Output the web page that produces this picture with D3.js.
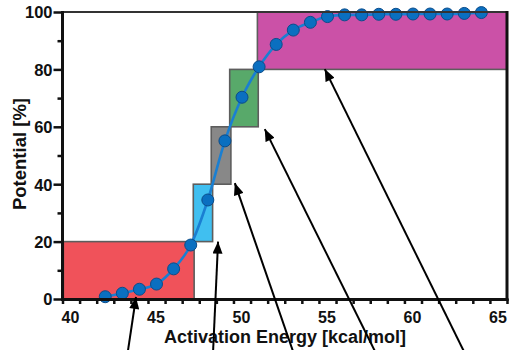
<!DOCTYPE html>
<html>
<head>
<meta charset="utf-8">
<script src="https://cdn.jsdelivr.net/npm/d3@7/dist/d3.min.js"></script>
<style>
  html, body { margin: 0; padding: 0; background: #fff; }
  svg { display: block; font-family: "Liberation Sans", Arial, sans-serif; }
</style>
</head>
<body>
<svg id="chart" width="510" height="350"></svg>
<script>
// Cumulative potential vs activation energy
const energy = [42.5, 43.5, 44.5, 45.5, 46.5, 47.5, 48.5, 49.5, 50.5, 51.5, 52.5, 53.5,
                54.5, 55.5, 56.5, 57.5, 58.5, 59.5, 60.5, 61.5, 62.5, 63.5, 64.5];
const potential = [0.8, 2.0, 3.4, 5.2, 10.5, 18.8, 34.5, 55.1, 70.3, 80.9, 88.7, 93.7,
                   96.4, 98.4, 99.0, 99.0, 99.2, 99.2, 99.3, 99.3, 99.3, 99.5, 99.8];

// Energy bands covering each 20 % slice of the potential
const bandStart = [40.05, 47.65, 48.7, 49.78, 51.4];
const bandEnd   = [47.7, 48.78, 49.85, 51.45, 66];
const bandLow   = [0, 20, 40, 60, 80];
const bandHigh  = [20, 40, 60, 80, 100];
const bandColor = ["#f0525a", "#40bff0", "#888888", "#58a96a", "#cb51a7"];

// Callout arrows: tail (below the axis) and head, in data units
const arrowTailX = [43.83, 48.81, 53.47, 58.26, 63.46];
const arrowTailY = [-18, -18, -18, -18, -18];
const arrowHeadX = [44.3, 49.1, 50.08, 51.83, 55.34];
const arrowHeadY = [0.7, 20, 40.4, 59.2, 80.1];

const xTicks = [40, 45, 50, 55, 60, 65];
const yTicks = [0, 20, 40, 60, 80, 100];

const svg = d3.select("#chart");
const plotL = 62.5, plotR = 507, plotT = 12, plotB = 299;

const x = d3.scaleLinear().domain([40, 66]).range([plotL, plotR]);
const y = d3.scaleLinear().domain([0, 100]).range([plotB, plotT]);

// bands
svg.append("g").selectAll("rect").data(bandStart).join("rect")
  .attr("x", (d, i) => x(d))
  .attr("y", (d, i) => y(bandHigh[i]))
  .attr("width", (d, i) => x(bandEnd[i]) - x(d))
  .attr("height", (d, i) => y(bandLow[i]) - y(bandHigh[i]))
  .attr("fill", (d, i) => bandColor[i])
  .attr("stroke", "#5d5d5d")
  .attr("stroke-width", 1.6);

// curve
const line = d3.line()
  .x((d, i) => x(energy[i]))
  .y(d => y(d))
  .curve(d3.curveMonotoneX);
svg.append("path")
  .attr("d", line(potential))
  .attr("fill", "none")
  .attr("stroke", "#1a7fd2")
  .attr("stroke-width", 2.6);

svg.append("g").selectAll("circle").data(potential).join("circle")
  .attr("cx", (d, i) => x(energy[i]))
  .attr("cy", d => y(d))
  .attr("r", 6)
  .attr("fill", "#0a6fc0")
  .attr("stroke", "#0b4c8a")
  .attr("stroke-width", 1);

// frame
svg.append("line").attr("x1", plotL).attr("x2", plotR).attr("y1", plotT).attr("y2", plotT)
  .attr("stroke", "#333").attr("stroke-width", 2);
svg.append("line").attr("x1", plotR).attr("x2", plotR).attr("y1", plotT - 1).attr("y2", plotB + 1.5)
  .attr("stroke", "#111").attr("stroke-width", 3);

// y axis
const yAxis = d3.axisLeft(y).tickValues(d3.range(0, 101, 10)).tickSize(0).tickFormat("");
const gy = svg.append("g").attr("transform", `translate(${plotL},0)`).call(yAxis);
gy.select(".domain").remove();
svg.append("line").attr("x1", plotL).attr("x2", plotL).attr("y1", plotT - 1).attr("y2", plotB + 1.5)
  .attr("stroke", "#111").attr("stroke-width", 3);
gy.selectAll(".tick").append("line")
  .attr("x1", d => (d % 20 === 0 ? -9 : -5)).attr("x2", 0)
  .attr("stroke", "#111").attr("stroke-width", 2.5);
gy.selectAll(".tick").filter(d => yTicks.includes(d)).append("text")
  .attr("x", -10).attr("dy", "0.36em")
  .attr("text-anchor", "end")
  .attr("fill", "#111")
  .style("font-size", "16.5px").style("font-weight", "bold")
  .text(d => d);

// x axis
const xAxis = d3.axisBottom(x).tickValues(d3.range(40, 67, 1)).tickSize(0).tickFormat("");
const gx = svg.append("g").attr("transform", `translate(0,${plotB})`).call(xAxis);
gx.select(".domain").remove();
svg.append("line").attr("x1", plotL - 1.5).attr("x2", plotR + 1.5).attr("y1", plotB + 0.5).attr("y2", plotB + 0.5)
  .attr("stroke", "#111").attr("stroke-width", 3);
gx.selectAll(".tick").append("line")
  .attr("y1", 0).attr("y2", 5)
  .attr("stroke", "#111").attr("stroke-width", 2.5);
gx.selectAll(".tick").filter(d => xTicks.includes(d)).append("text")
  .attr("x", 7.5).attr("y", 23.5)
  .attr("text-anchor", "middle")
  .attr("fill", "#111")
  .style("font-size", "16px").style("font-weight", "bold")
  .text(d => d);

// axis titles
svg.append("text")
  .attr("x", 285).attr("y", 343)
  .attr("text-anchor", "middle")
  .attr("fill", "#111")
  .style("font-size", "18px").style("font-weight", "bold")
  .text("Activation Energy [kcal/mol]");
svg.append("text")
  .attr("transform", "translate(20,154) rotate(-90)")
  .attr("dy", "0.35em")
  .attr("text-anchor", "middle")
  .attr("fill", "#111")
  .style("font-size", "18.5px").style("font-weight", "bold")
  .text("Potential [%]");

// callout arrows
svg.append("defs").append("marker")
  .attr("id", "head")
  .attr("viewBox", "0 0 12 10")
  .attr("refX", 12).attr("refY", 5)
  .attr("markerWidth", 13).attr("markerHeight", 10)
  .attr("markerUnits", "userSpaceOnUse")
  .attr("orient", "auto")
  .append("path").attr("d", "M0,0 L12,5 L0,10 Z").attr("fill", "#000");

svg.append("g").selectAll("line").data(arrowTailX).join("line")
  .attr("x1", d => x(d))
  .attr("y1", (d, i) => y(arrowTailY[i]))
  .attr("x2", (d, i) => x(arrowHeadX[i]))
  .attr("y2", (d, i) => y(arrowHeadY[i]))
  .attr("stroke", "#000")
  .attr("stroke-width", 2)
  .attr("marker-end", "url(#head)");
</script>
</body>
</html>
